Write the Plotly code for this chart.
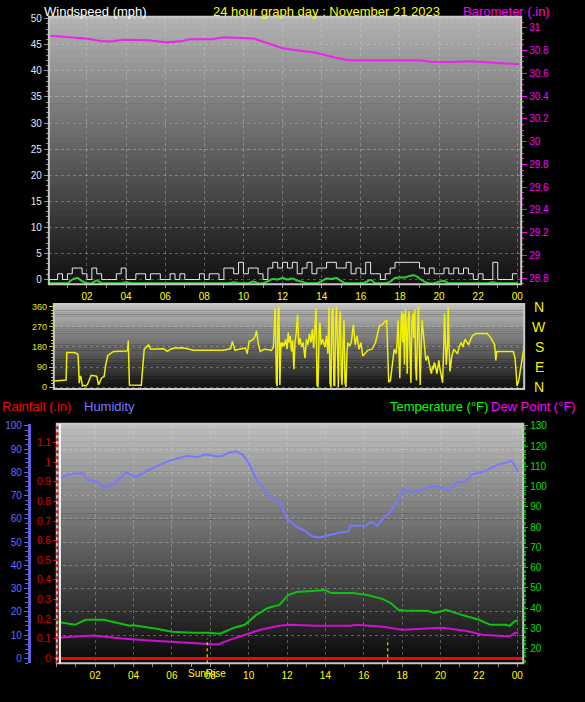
import plotly.graph_objects as go

# ---------------- data ----------------
hour_ticks = [2, 4, 6, 8, 10, 12, 14, 16, 18, 20, 22, 24]
hour_labels = ["02", "04", "06", "08", "10", "12", "14", "16", "18", "20", "22", "00"]

# barometer (inHg)
baro_hours = [0.12, 0.97, 1.94, 2.7, 3.26, 3.83, 5.16, 6.1, 6.87, 7.25, 8.4, 8.97, 9.7, 10.5,
              11.05, 12.0, 12.8, 13.7, 14.67, 15.4, 16.56, 19.03, 19.6, 20.7, 21.6, 22.3, 23.2, 24.1]
baro_values = [30.93, 30.92, 30.907, 30.884, 30.88, 30.896, 30.89, 30.872, 30.884, 30.90, 30.90, 30.916,
               30.91, 30.907, 30.875, 30.82, 30.80, 30.78, 30.74, 30.716, 30.716, 30.716, 30.70, 30.70,
               30.707, 30.70, 30.687, 30.68]

# wind gust / average (mph), every 15 minutes from 00:00
wind_hours = [i * 0.25 for i in range(97)]
gust_values = [0, 0, 1.1, 0, 1.1, 2.2, 2.2, 1.1, 0, 2.2, 1.1, 0, 0, 0, 1.1, 2.2,
               0, 0, 1.1, 1.1, 0, 1.1, 1.1, 0, 0, 1.1, 0, 1.1, 0, 0, 0, 1.1,
               0, 1.1, 1.1, 0, 2.2, 2.2, 1.1, 3.3, 1.1, 2.2, 2.2, 1.1, 0, 2.2, 3.3, 2.2,
               3.3, 2.2, 3.3, 1.1, 2.2, 3.3, 1.1, 2.2, 2.2, 3.3, 3.3, 2.2, 2.2, 3.3, 1.1, 2.2,
               1.1, 3.3, 1.1, 1.1, 0, 1.1, 2.2, 3.3, 3.3, 3.3, 3.3, 3.3, 2.2, 1.1, 2.2, 1.1,
               1.1, 2.2, 1.1, 2.2, 1.1, 2.2, 1.1, 0, 1.1, 0, 0, 3.3, 0, 0, 0, 1.1, 1.1]
avg_values = [-0.7, -0.7, -0.7, -0.7, -0.7, 0.0, 0.3, -0.3, -0.7, -0.7, -0.2, -0.7, -0.7, -0.7, -0.7, -0.7,
              -0.5, -0.7, -0.7, -0.7, -0.7, -0.7, -0.7, -0.7, -0.7, -0.7, -0.7, -0.7, -0.7, -0.7, -0.7, -0.7,
              -0.7, -0.7, -0.7, -0.7, -0.7, -0.7, -0.5, -0.7, -0.7, -0.7, -0.4, -0.7, -0.7, -0.3, 0.1, 0.0,
              0.3, 0.0, 0.2, -0.2, -0.4, -0.7, -0.7, -0.7, -0.3, 0.2, 0.1, 0.3, -0.3, -0.7, -0.7, -0.7,
              -0.7, -0.5, -0.1, -0.7, -0.7, -0.7, -0.4, 0.3, 0.4, 0.4, 0.7, 0.8, 0.2, -0.4, -0.7, -0.7,
              -0.4, -0.3, -0.7, -0.7, -0.7, -0.7, -0.7, -0.7, -0.7, -0.7, -0.7, -0.5, -0.7, -0.7, -0.7, -0.7, -0.7]

# wind direction (degrees)
dir_hours = [0.00, 0.50, 0.58, 0.62, 1.00, 1.15, 1.20, 1.26, 1.30, 1.35, 1.42, 1.49, 1.60, 1.68, 1.80, 1.87,
             2.10, 2.16, 2.25, 2.40, 2.54, 2.62, 2.73, 2.90, 3.02, 3.69, 3.75, 3.78, 3.84, 4.45, 4.55, 4.60,
             4.83, 4.93, 5.60, 5.79, 5.95, 6.17, 6.60, 7.13, 8.66, 9.04, 9.14, 9.20, 9.27, 9.60, 9.81, 9.90,
             10.00, 10.15, 10.30, 10.38, 10.44, 10.48, 10.57, 10.77, 11.00, 11.15, 11.25, 11.34, 11.40, 11.44,
             11.49, 11.53, 11.58, 11.63, 11.68, 11.72, 11.80, 11.88, 11.95, 12.01, 12.06, 12.12, 12.18, 12.24,
             12.30, 12.36, 12.42, 12.49, 12.55, 12.62, 12.70, 12.78, 12.87, 12.95, 13.02, 13.10, 13.18, 13.25,
             13.32, 13.40, 13.44, 13.49, 13.54, 13.60, 13.64, 13.70, 13.78, 13.83, 13.90, 13.98, 14.05, 14.11,
             14.16, 14.21, 14.26, 14.31, 14.36, 14.40, 14.45, 14.50, 14.55, 14.59, 14.64, 14.69, 14.74, 14.78,
             14.83, 14.88, 14.93, 14.98, 15.03, 15.07, 15.17, 15.25, 15.36, 15.45, 15.55, 15.65, 15.75, 15.84,
             15.95, 16.10, 16.32, 16.50, 16.70, 16.85, 17.00, 17.08, 17.13, 17.18, 17.27, 17.36, 17.46, 17.56,
             17.61, 17.66, 17.70, 17.75, 17.80, 17.85, 17.90, 17.94, 17.99, 18.04, 18.09, 18.13, 18.18, 18.23,
             18.28, 18.32, 18.37, 18.42, 18.47, 18.52, 18.56, 18.61, 18.66, 18.71, 18.76, 18.80, 18.85, 18.90,
             18.95, 18.99, 19.05, 19.09, 19.19, 19.24, 19.28, 19.33, 19.38, 19.43, 19.47, 19.52, 19.57, 19.62,
             19.66, 19.71, 19.76, 19.80, 19.85, 19.90, 19.95, 20.00, 20.05, 20.10, 20.14, 20.20, 20.24, 20.28,
             20.33, 20.43, 20.53, 20.72, 20.80, 20.91, 21.00, 21.10, 21.20, 21.29, 21.40, 21.48, 21.67, 22.25,
             22.44, 22.63, 22.69, 22.74, 23.59, 23.68, 23.74, 23.78, 23.87, 23.97, 24.06, 24.16]
dir_values = [27, 30, 32, 155, 155, 150, 142, 18, 50, 45, 5, 8, 5, 12, 40, 53,
              50, 48, 10, 40, 48, 100, 142, 155, 160, 162, 165, 209, 9, 8, 100, 169,
              190, 170, 172, 160, 170, 175, 177, 165, 165, 172, 205, 185, 165, 172, 175, 150,
              205, 210, 225, 253, 205, 190, 160, 170, 168, 165, 180, 355, 20, 5,
              350, 360, 10, 200, 180, 200, 185, 215, 170, 245, 200, 230, 160, 210,
              80, 205, 240, 325, 190, 220, 180, 200, 130, 215, 190, 240, 200, 260,
              175, 300, 355, 10, 0, 250, 290, 190, 215, 200, 180, 230, 150, 360,
              20, 0, 340, 355, 10, 5, 300, 360, 30, 0, 280, 340, 50, 10,
              200, 300, 20, 0, 150, 200, 185, 200, 280, 190, 230, 170, 200, 140,
              150, 165, 170, 200, 275, 280, 295, 300, 150, 22, 30, 100, 170, 150,
              200, 300, 120, 40, 250, 340, 200, 330, 100, 350, 250, 60, 300, 340,
              150, 20, 280, 330, 220, 350, 100, 30, 250, 360, 150, 10, 200, 300,
              250, 200, 160, 120, 140, 110, 90, 75, 60, 95, 80, 110, 100, 70,
              60, 90, 120, 90, 60, 40, 20, 150, 330, 200, 100, 180, 360, 200,
              70, 140, 170, 150, 180, 200, 180, 215, 200, 190, 215, 230, 240, 240,
              220, 190, 120, 160, 160, 130, 60, 5, 30, 90, 150, 190]

# humidity (%)
hum_hours = [0.0, 0.16, 0.6, 1.0, 1.35, 1.6, 2.0, 2.5, 3.0, 3.6, 4.15, 4.8, 5.3, 5.9, 6.3, 6.75, 7.3,
             7.8, 8.3, 8.6, 9.0, 9.35, 9.7, 10.0, 10.4, 10.8, 11.1, 11.6, 12.0, 12.5, 13.0, 13.3, 13.7,
             14.2, 14.7, 15.2, 15.3, 16.1, 16.4, 16.7, 17.1, 17.4, 17.8, 18.1, 18.5, 19.2, 19.5, 20.05,
             20.4, 20.9, 21.3, 21.6, 22.3, 23.0, 23.5, 23.7, 23.9, 24.05]
hum_values = [77, 77.5, 79, 79.5, 79.6, 76.5, 76.5, 73.6, 75, 80, 78, 81, 83, 85, 86, 87, 86.5,
              87.7, 86.8, 87, 88.5, 89, 87.5, 84, 77, 73, 69, 67.6, 60, 56.6, 54.5, 52.5, 52,
              53, 54, 54.5, 57, 57, 58.7, 57, 61, 63, 68.5, 72.8, 71.5, 72.8, 74, 73.6,
              72, 75.7, 76, 79, 80.4, 83.4, 84.3, 85, 82.5, 80.4]

# temperature / dew point (F)
temp_hours = [0.0, 0.95, 1.5, 2.45, 3.8, 4.0, 5.2, 6.0, 7.1, 7.9, 8.5, 9.25, 9.8, 10.4, 11.0, 11.6,
              12.05, 12.5, 13.3, 14.0, 14.3, 15.4, 16.2, 17.0, 17.4, 17.8, 18.2, 19.3, 19.7, 20.3,
              21.1, 22.0, 22.6, 23.4, 23.6, 23.9, 24.05]
temp_values = [33.2, 31.7, 34.2, 34.2, 31.2, 31.5, 29.8, 28.3, 27.8, 27.8, 27.3, 30.3, 31.7, 36.6,
               40.0, 41.5, 46.4, 47.9, 48.4, 48.9, 47.4, 47.4, 46.4, 44.4, 42.5, 39.1, 38.6, 38.6,
               37.6, 39.1, 36.6, 34.2, 31.7, 31.7, 31.2, 33.7, 33.7]
dew_hours = [0.0, 0.15, 1.9, 3.4, 4.8, 5.8, 6.75, 8.4, 9.05, 10.0, 10.6, 11.6, 12.15, 13.5, 15.3,
             15.6, 17.0, 18.0, 20.1, 21.3, 22.2, 23.6, 23.9, 24.05]
dew_values = [25.4, 25.4, 26.4, 24.9, 23.9, 23.4, 22.9, 22.0, 24.4, 27.3, 29.3, 31.2, 31.7, 31.2,
              31.2, 31.7, 30.8, 29.3, 30.3, 28.8, 26.8, 25.9, 27.8, 27.8]

# rainfall (in)
rain_hours = [0.0, 24.3]
rain_values = [0, 0]

sunrise_hour = 7.84
sunset_hour = 17.25

FONT = "Liberation Sans, Arial, sans-serif"

fig = go.Figure()

# top panel
fig.add_trace(go.Scatter(x=wind_hours, y=gust_values, mode="lines", line=dict(color="#e8e8e8", width=1, shape="hv"),
                         xaxis="x", yaxis="y"))
fig.add_trace(go.Scatter(x=wind_hours, y=avg_values, mode="lines", line=dict(color="#30d030", width=2, shape="spline"),
                         xaxis="x", yaxis="y"))
fig.add_trace(go.Scatter(x=baro_hours, y=baro_values, mode="lines", line=dict(color="#ee22ee", width=2),
                         xaxis="x", yaxis="y2"))

# direction panel
fig.add_trace(go.Scatter(x=dir_hours, y=dir_values, mode="lines", line=dict(color="#f0f000", width=1.5),
                         xaxis="x2", yaxis="y3"))

# bottom panel
fig.add_trace(go.Scatter(x=hum_hours, y=hum_values, mode="lines", line=dict(color="#7878ff", width=2),
                         xaxis="x3", yaxis="y4"))
fig.add_trace(go.Scatter(x=rain_hours, y=rain_values, mode="lines", line=dict(color="#ff0000", width=3),
                         xaxis="x3", yaxis="y5"))
fig.add_trace(go.Scatter(x=temp_hours, y=temp_values, mode="lines", line=dict(color="#10c010", width=2),
                         xaxis="x3", yaxis="y6"))
fig.add_trace(go.Scatter(x=dew_hours, y=dew_values, mode="lines", line=dict(color="#d010d0", width=2),
                         xaxis="x3", yaxis="y6"))


def px_x(p):
    return p / 585


def px_y(p):
    return 1 - p / 702


# gradient backgrounds, drawn as thin strips
shapes = []
panels = [("x domain", "y domain", (178, 178, 178), (18, 18, 18)),
          ("x2 domain", "y3 domain", (192, 192, 192), (18, 18, 18)),
          ("x3 domain", "y4 domain", (190, 190, 190), (10, 10, 10))]
n = 40
for xr, yr, top, bot in panels:
    for k in range(n):
        t = k / (n - 1)
        c = tuple(int(bot[j] + (top[j] - bot[j]) * t) for j in range(3))
        shapes.append(dict(type="rect", xref=xr, yref=yr, x0=0, x1=1, y0=k / n, y1=(k + 1) / n + 0.002,
                           fillcolor="rgb(%d,%d,%d)" % c, line=dict(width=0), layer="below"))
    shapes.append(dict(type="rect", xref=xr, yref=yr, x0=0, x1=1, y0=0, y1=1,
                       line=dict(color="#c8c8c8", width=2), layer="above"))

# bottom panel markers
shapes.append(dict(type="line", xref="paper", yref="y4 domain", x0=px_x(57.5), x1=px_x(57.5), y0=0, y1=1,
                   line=dict(color="#e00000", width=2, dash="dot")))
shapes.append(dict(type="line", xref="x3", yref="y4 domain", x0=0.16, x1=0.16, y0=0, y1=1,
                   line=dict(color="#ffffff", width=2)))
shapes.append(dict(type="line", xref="paper", yref="y4 domain", x0=px_x(526.5), x1=px_x(526.5), y0=0, y1=1,
                   line=dict(color="#00c000", width=2, dash="dot")))
for h in (sunrise_hour, sunset_hour):
    shapes.append(dict(type="line", xref="x3", yref="y4", x0=h, x1=h, y0=-2.1, y1=8.5,
                       line=dict(color="#ffff00", width=1, dash="dot")))

ann = []


def label(text, x, y, color, size=13, xanchor="left", yref="paper"):
    ann.append(dict(text=text, x=x, y=y, xref="paper", yref=yref, xanchor=xanchor, yanchor="middle",
                    showarrow=False, font=dict(family=FONT, size=size, color=color)))


label("Windspeed (mph)", px_x(42), px_y(8), "#ffffff")
label("24 hour graph day : November 21 2023", px_x(328), px_y(8), "#ffff00", xanchor="center")
label("Barometer (.in)", px_x(463), px_y(8), "#ff00ff")
label("Rainfall (.in)", px_x(0), px_y(407), "#ff0000")
label("Humidity", px_x(82), px_y(407), "#7878ff")
label("Temperature (°F)", px_x(389), px_y(407), "#00ff00")
label("Dew Point (°F)", px_x(491), px_y(407), "#ff00ff")
for d, v in zip(["N", "W", "S", "E", "N"], [360, 270, 180, 90, 0]):
    label(d, px_x(541), v, "#f0f000", size=14, xanchor="center", yref="y3")
ann.append(dict(text="SunRise", x=sunrise_hour, y=px_y(676), xref="x3", yref="paper", showarrow=False,
                xanchor="center", yanchor="middle", font=dict(family=FONT, size=10, color="#ffff00")))

tick_font = dict(family=FONT, size=10)
grid = dict(showgrid=True, gridcolor="rgba(215,215,215,0.35)", griddash="dot", gridwidth=1)

fig.update_layout(
    width=585, height=702, autosize=False,
    margin=dict(l=0, r=0, t=0, b=0),
    paper_bgcolor="#000000", plot_bgcolor="rgba(0,0,0,0)",
    showlegend=False,
    shapes=shapes, annotations=ann,
    xaxis=dict(domain=[px_x(49), px_x(523)], range=[0.05, 24.2], anchor="y",
               tickvals=hour_ticks, ticktext=hour_labels, tickfont=dict(**tick_font, color="#ffff00"),
               ticks="outside", ticklen=3, tickcolor="#909090",
               minor=dict(ticks="outside", dtick=1, ticklen=3, tickcolor="#909090"),
               zeroline=False, **grid),
    yaxis=dict(domain=[px_y(283), px_y(13)], range=[-0.89, 50.34], anchor="x",
               tickvals=list(range(0, 51, 5)), tickfont=dict(**tick_font, color="#e0e8ff"),
               ticks="outside", ticklen=4, tickcolor="#909090",
               minor=dict(ticks="outside", dtick=1, ticklen=2, tickcolor="#909090"),
               zeroline=False, **grid),
    yaxis2=dict(overlaying="y", side="right", anchor="x", range=[28.748, 31.096],
                tickvals=[28.8, 29, 29.2, 29.4, 29.6, 29.8, 30, 30.2, 30.4, 30.6, 30.8, 31],
                ticktext=["28.8", "29", "29.2", "29.4", "29.6", "29.8", "30", "30.2", "30.4", "30.6", "30.8", "31"],
                tickfont=dict(**tick_font, color="#ff00ff"),
                ticks="outside", ticklen=5, tickcolor="#ff00ff",
                minor=dict(ticks="outside", dtick=0.05, ticklen=2, tickcolor="#ff00ff"),
                showgrid=False, zeroline=False),
    xaxis2=dict(domain=[px_x(54), px_x(526)], range=[-0.05, 24.15], anchor="y3",
                showticklabels=False, showgrid=False, zeroline=False),
    yaxis3=dict(domain=[px_y(389), px_y(303)], range=[-9, 373], anchor="x2",
                tickvals=[0, 90, 180, 270, 360], tickfont=dict(family=FONT, size=9, color="#e8e800"),
                ticks="outside", ticklen=4, tickcolor="#c8c800",
                minor=dict(ticks="outside", dtick=15, ticklen=2, tickcolor="#c8c800"),
                zeroline=False, showgrid=True, gridcolor="rgba(215,215,215,0.35)", griddash="dot"),
    xaxis3=dict(domain=[px_x(57), px_x(525)], range=[0, 24.31], anchor="y4",
                tickvals=hour_ticks, ticktext=hour_labels, tickfont=dict(**tick_font, color="#ffff00"),
                ticks="outside", ticklen=3, tickcolor="#909090",
                minor=dict(ticks="outside", dtick=1, ticklen=3, tickcolor="#909090"),
                zeroline=False, **grid),
    yaxis4=dict(domain=[px_y(666), px_y(424)], range=[-2.13, 100.85], anchor="free", position=px_x(29), side="left",
                tickvals=list(range(0, 101, 10)), tickfont=dict(**tick_font, color="#6a6aff"),
                ticks="outside", ticklen=4, tickcolor="#6060e0",
                minor=dict(ticks="outside", dtick=2, ticklen=3, tickcolor="#6060e0"),
                showline=True, linecolor="#6060e0", linewidth=3,
                zeroline=False, **grid),
    yaxis5=dict(overlaying="y4", side="left", anchor="x3", range=[-0.025, 1.196],
                tickvals=[0, 0.1, 0.2, 0.3, 0.4, 0.5, 0.6, 0.7, 0.8, 0.9, 1, 1.1],
                ticktext=["0", "0.1", "0.2", "0.3", "0.4", "0.5", "0.6", "0.7", "0.8", "0.9", "1", "1.1"],
                tickfont=dict(**tick_font, color="#e00000"),
                ticks="outside", ticklen=3, tickcolor="#e00000",
                showgrid=False, zeroline=False),
    yaxis6=dict(overlaying="y4", side="right", anchor="x3", range=[12.67, 131],
                tickvals=list(range(20, 131, 10)), tickfont=dict(**tick_font, color="#00e000"),
                ticks="outside", ticklen=4, tickcolor="#00c000",
                minor=dict(ticks="outside", dtick=2, ticklen=2, tickcolor="#00c000"),
                showgrid=False, zeroline=False),
)

fig.write_html("out.html", config={"displayModeBar": False},
               post_script="document.body.style.margin='0';document.body.style.background='#000';")
